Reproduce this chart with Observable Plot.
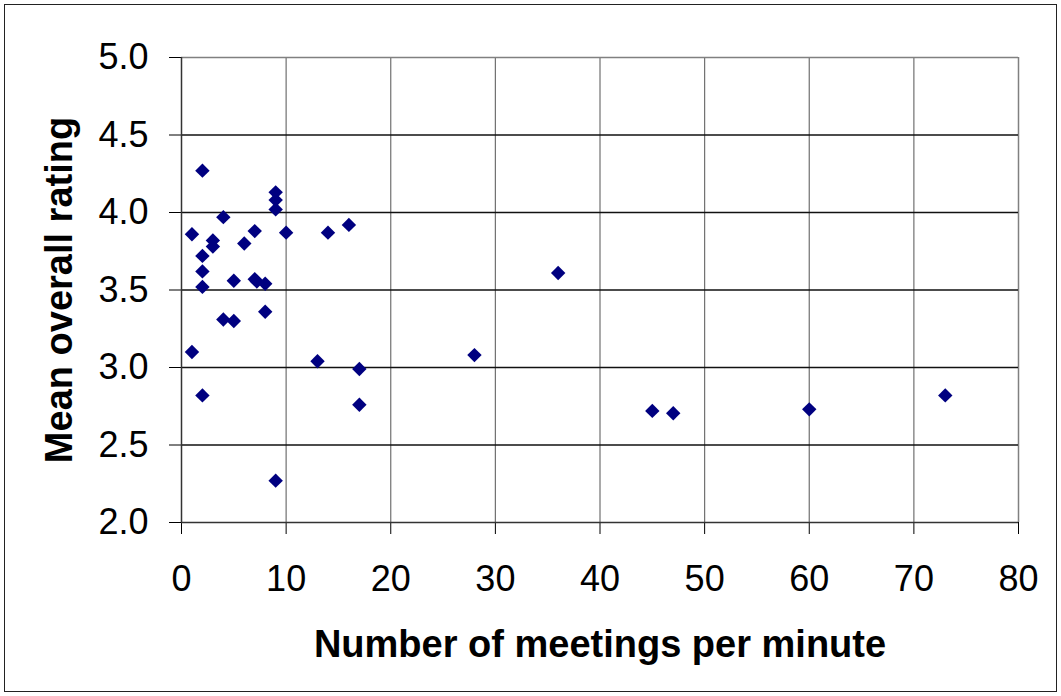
<!DOCTYPE html>
<html>
<head>
<meta charset="utf-8">
<script src="https://cdn.jsdelivr.net/npm/d3@7"></script>
<script src="https://cdn.jsdelivr.net/npm/@observablehq/plot@0.6"></script>
<style>
  html, body { margin: 0; padding: 0; background: #fff; }
  #wrap { position: relative; width: 1061px; height: 696px; }
  #border { position: absolute; left: 4px; top: 4px; width: 1051px; height: 686px; border: 1.5px solid #222; pointer-events: none; }
  svg [aria-label="x-axis label"], svg [aria-label="y-axis label"] { font-weight: bold; font-size: 38px; }
</style>
</head>
<body>
<div id="wrap"><div id="border"></div></div>
<script>
const meetings = [1, 1, 2, 2, 2, 2, 2, 3, 3, 4, 4, 5, 5, 6, 7, 7, 7.2, 8, 8, 9, 9, 9, 9, 10, 13, 14, 16, 17, 17, 28, 36, 45, 47, 60, 73];
const ratings  = [3.86, 3.10, 4.27, 3.72, 3.62, 3.52, 2.82, 3.82, 3.78, 3.97, 3.31, 3.56, 3.30, 3.80, 3.88, 3.57, 3.555, 3.54, 3.36, 4.13, 4.08, 4.02, 2.27, 3.87, 3.04, 3.87, 3.92, 2.99, 2.76, 3.08, 3.61, 2.72, 2.705, 2.73, 2.82];
const xTicks = [0, 10, 20, 30, 40, 50, 60, 70, 80];
const yTicks = [2.0, 2.5, 3.0, 3.5, 4.0, 4.5, 5.0];
const xTitle = "Number of meetings per minute";
const yTitle = "Mean overall rating";

const data = meetings.map((m, i) => ({m, r: ratings[i]}));
const innerY = yTicks.filter(v => v > 2 && v < 5);
const innerX = xTicks.filter(v => v > 0 && v < 80);

const chart = Plot.plot({
  width: 1061,
  height: 696,
  marginLeft: 181,
  marginRight: 43,
  marginTop: 57,
  marginBottom: 174,
  style: {fontFamily: "'Liberation Sans', Arial, sans-serif", fontSize: "36px", color: "#000", background: "#fff"},
  x: {domain: [0, 80], ticks: xTicks, tickSize: 12, tickPadding: 31, label: xTitle, labelAnchor: "center", labelArrow: "none", labelOffset: 134},
  y: {domain: [2, 5], ticks: yTicks, tickSize: 12, tickPadding: 21, tickFormat: d3.format(".1f"), label: yTitle, labelAnchor: "center", labelArrow: "none", labelOffset: 136},
  marks: [
    Plot.ruleX(innerX, {stroke: "#707070", strokeWidth: 1.2}),
    Plot.ruleX([80], {stroke: "#808080", strokeWidth: 1.5}),
    Plot.ruleY(innerY, {stroke: "#111", strokeWidth: 1.3}),
    Plot.ruleY([5], {stroke: "#808080", strokeWidth: 1.5}),
    Plot.ruleX([0], {stroke: "#333", strokeWidth: 1.5}),
    Plot.ruleY([2], {stroke: "#333", strokeWidth: 1.5}),
    Plot.dot(data, {x: "m", y: "r", symbol: "diamond2", r: 6.5, fill: "#000080", stroke: "none"})
  ]
});
document.getElementById("wrap").prepend(chart);
</script>
</body>
</html>
